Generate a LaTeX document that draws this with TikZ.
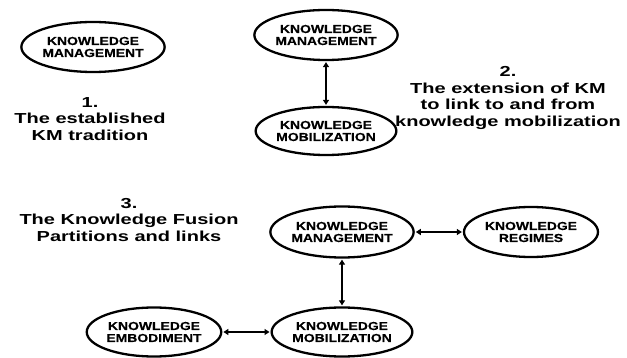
\documentclass[tikz,border=0pt]{standalone}
\usepackage{fontspec}
\newfontfamily\ellfont{Liberation Sans Bold}[FakeStretch=1.2, FakeBold=0.3]
\newfontfamily\labfont{Liberation Sans Bold}[FakeStretch=1.38]
\usetikzlibrary{shapes.geometric, arrows.meta}
\begin{document}
\begin{tikzpicture}[x=1pt, y=-1pt,
  ell/.style={draw, ellipse, line width=2.3pt, minimum width=134pt, minimum height=50pt, inner sep=0pt, align=center,
    font=\ellfont\fontsize{11.6}{12}\selectfont},
  lab/.style={align=center, inner sep=0pt, font=\labfont\fontsize{14.5}{16.5}\selectfont},
  link/.style={line width=2.2pt, {Triangle[length=5pt, width=6pt]}-{Triangle[length=5pt, width=6pt]}, shorten <=1pt, shorten >=1pt}]
  \useasboundingbox (0,0) rectangle (627,358);

  % 1. established tradition
  \node[ell] (km1) at (93,47) {KNOWLEDGE\\MANAGEMENT};
  \node[lab] (lab1) at (90,119) {1.\\The established\\KM tradition};

  % 2. extension to mobilization
  \node[ell, minimum width=136pt] (km2) at (326,35) {KNOWLEDGE\\MANAGEMENT};
  \node[ell, minimum width=138pt, minimum height=48pt] (mob2) at (326,131) {KNOWLEDGE\\MOBILIZATION};
  \draw[link] (km2.south) -- (mob2.north);
  \node[lab] (lab2) at (508,98) {2.\\The extension of KM\\to link to and from\\knowledge mobilization};

  % 3. knowledge fusion
  \node[lab] (lab3) at (129,220) {3.\\The Knowledge Fusion\\Partitions and links};
  \node[ell, minimum width=135pt, minimum height=51pt] (km3) at (342,232) {KNOWLEDGE\\MANAGEMENT};
  \node[ell] (reg3) at (531,232) {KNOWLEDGE\\REGIMES};
  \node[ell, minimum width=133pt, minimum height=49pt] (mob3) at (342,332) {KNOWLEDGE\\MOBILIZATION};
  \node[ell, minimum height=49pt] (emb3) at (154,332) {KNOWLEDGE\\EMBODIMENT};
  \draw[link] (km3.east) -- (reg3.west);
  \draw[link] (km3.south) -- (mob3.north);
  \draw[link] (emb3.east) -- (mob3.west);
\end{tikzpicture}
\end{document}
